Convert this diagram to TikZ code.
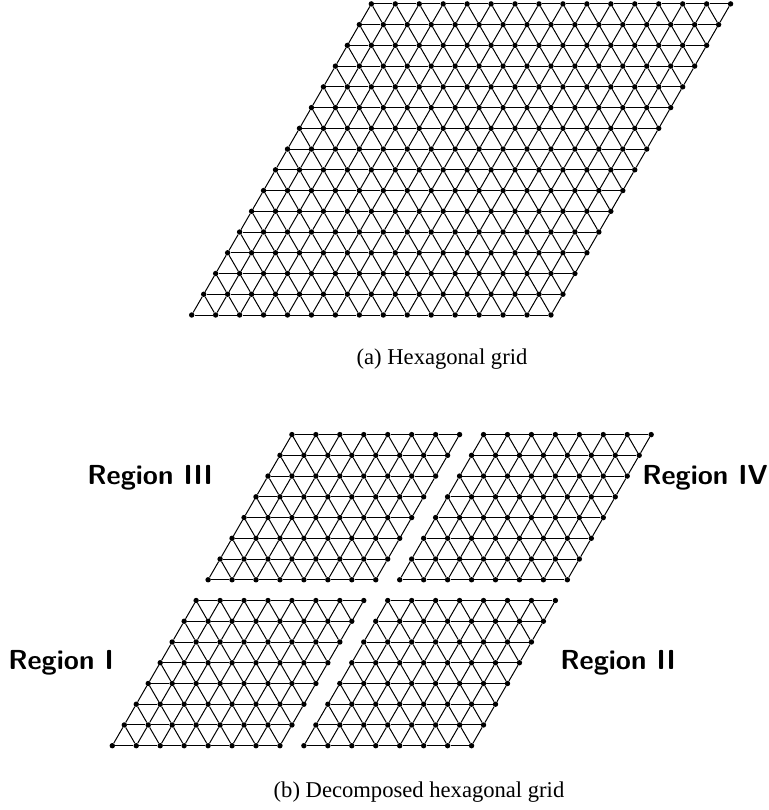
\documentclass[tikz,border=0pt]{standalone}
\usepackage{fontspec}
\setmainfont{Liberation Serif}
\begin{document}
\begin{tikzpicture}[x=1pt,y=-1pt,
  dot/.style={circle,fill=black,inner sep=0pt,minimum size=5.4pt},
  edge/.style={draw=black,line width=1pt},
  caption/.style={font=\fontsize{22.6}{27}\selectfont},
  region/.style={font=\fontsize{27.5}{33}\selectfont\sffamily\bfseries}]
\useasboundingbox (0,0) rectangle (768,810);
% ---- (a) full grid ----
\foreach \i in {0,...,15}{
  \foreach \j in {0,...,15}{
    \node[dot] (a-\i-\j) at ({191.7+23.95*\i+11.975*\j},{315-20.74*\j}) {};
  }
}
\foreach \i in {0,...,15}{
  \foreach \j in {0,...,15}{
    \pgfmathtruncatemacro{\ip}{\i+1}
    \pgfmathtruncatemacro{\im}{\i-1}
    \pgfmathtruncatemacro{\jp}{\j+1}
    \ifnum\i<15 \draw[edge] (a-\i-\j) -- (a-\ip-\j);\fi
    \ifnum\j<15
      \draw[edge] (a-\i-\j) -- (a-\i-\jp);
      \ifnum\i>0 \draw[edge] (a-\i-\j) -- (a-\im-\jp);\fi
    \fi
  }
}
\node[caption] (capa) at (442,359) {(a) Hexagonal grid};
% ---- (b) decomposed grid ----
\foreach \i in {0,...,15}{
  \foreach \j in {0,...,15}{
    \node[dot] (b-\i-\j) at ({112.3+23.95*\i+11.975*\j},{745.7-20.74*\j}) {};
  }
}
\foreach \i in {0,...,15}{
  \foreach \j in {0,...,15}{
    \pgfmathtruncatemacro{\ip}{\i+1}
    \pgfmathtruncatemacro{\im}{\i-1}
    \pgfmathtruncatemacro{\jp}{\j+1}
    \ifnum\i<15 \ifnum\i=7 \else \draw[edge] (b-\i-\j) -- (b-\ip-\j);\fi\fi
    \ifnum\j<15 \ifnum\j=7 \else
      \draw[edge] (b-\i-\j) -- (b-\i-\jp);
      \ifnum\i>0 \ifnum\i=8 \else \draw[edge] (b-\i-\j) -- (b-\im-\jp);\fi\fi
    \fi\fi
  }
}
\node[region] (r3) at (150,478) {Region III};
\node[region] (r4) at (705,478) {Region IV};
\node[region] (r1) at (61,663) {Region I};
\node[region] (r2) at (618,663) {Region II};
\node[caption] (capb) at (419,792) {(b) Decomposed hexagonal grid};
\end{tikzpicture}
\end{document}
